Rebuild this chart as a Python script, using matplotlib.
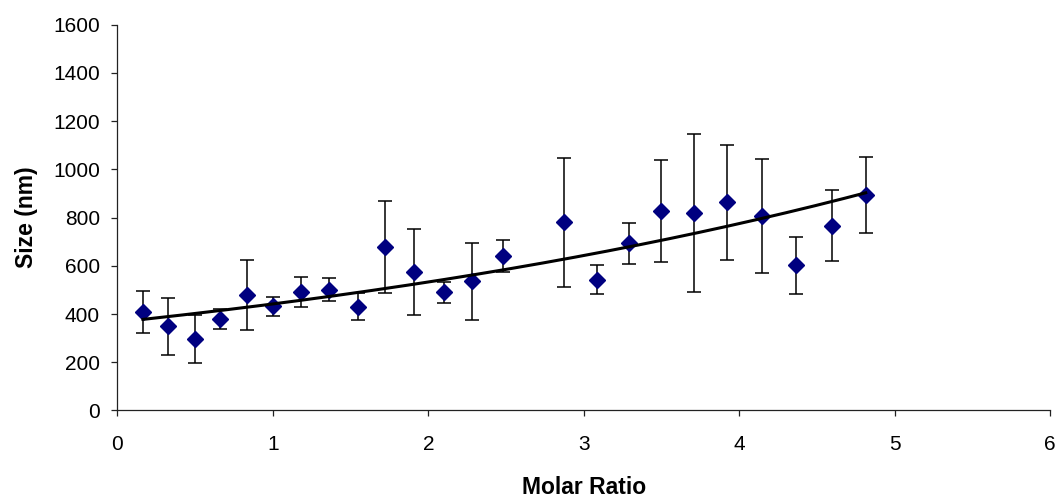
import numpy as np
import matplotlib
matplotlib.use("Agg")
import matplotlib.pyplot as plt

plt.rcParams['font.family'] = ['Liberation Sans', 'DejaVu Sans']

# Molar ratio vs particle size, with error bars
molar_ratio = [0.164, 0.323, 0.498, 0.659, 0.831, 1.002, 1.178, 1.360, 1.545, 1.720,
               1.905, 2.100, 2.284, 2.481, 2.876, 3.084, 3.289, 3.500, 3.707, 3.923,
               4.145, 4.368, 4.597, 4.814]
size_nm = [408, 349, 296, 380, 478, 432, 492, 500, 431, 679,
           574, 490, 536, 640, 781, 543, 694, 826, 819, 863,
           806, 603, 766, 894]
size_err = [86, 119, 100, 41, 146, 40, 63, 48, 56, 190,
            179, 44, 159, 67, 267, 60, 85, 212, 328, 238,
            235, 118, 148, 156]

x = np.array(molar_ratio)
y = np.array(size_nm)

# exponential trendline fitted to the data (as Excel does)
b, ln_a = np.polyfit(x, np.log(y), 1)
xt = np.linspace(x.min(), x.max(), 200)
yt = np.exp(ln_a) * np.exp(b * xt)

fig = plt.figure(figsize=(10.63, 4.99), dpi=100)
ax = fig.add_axes([0.1105, 0.1774, 0.8773, 0.7731])

ax.errorbar(x, y, yerr=size_err, fmt='none', ecolor='black',
            elinewidth=1.1, capsize=5, capthick=1.1, zorder=2)
ax.plot(x, y, 'D', color='#000080', markersize=8, zorder=3)
ax.plot(xt, yt, color='black', linewidth=2.2, zorder=4)

ax.set_xlim(0, 6)
ax.set_ylim(0, 1600)
ax.set_xticks(range(0, 7))
ax.set_yticks(range(0, 1601, 200))

for side in ['top', 'right']:
    ax.spines[side].set_visible(False)
for side in ['left', 'bottom']:
    ax.spines[side].set_color('#222222')
    ax.spines[side].set_linewidth(0.9)

ax.tick_params(axis='both', direction='out', length=4.5, width=0.9,
               colors='#222222', labelsize=15, labelcolor='black')
ax.tick_params(axis='y', pad=8)
ax.tick_params(axis='x', pad=13)

ax.set_xlabel('Molar Ratio', fontsize=16.5, fontweight='bold', labelpad=16)
ax.set_ylabel('Size (nm)', fontsize=16.5, fontweight='bold', labelpad=11)

fig.savefig('out.png', dpi=100)
